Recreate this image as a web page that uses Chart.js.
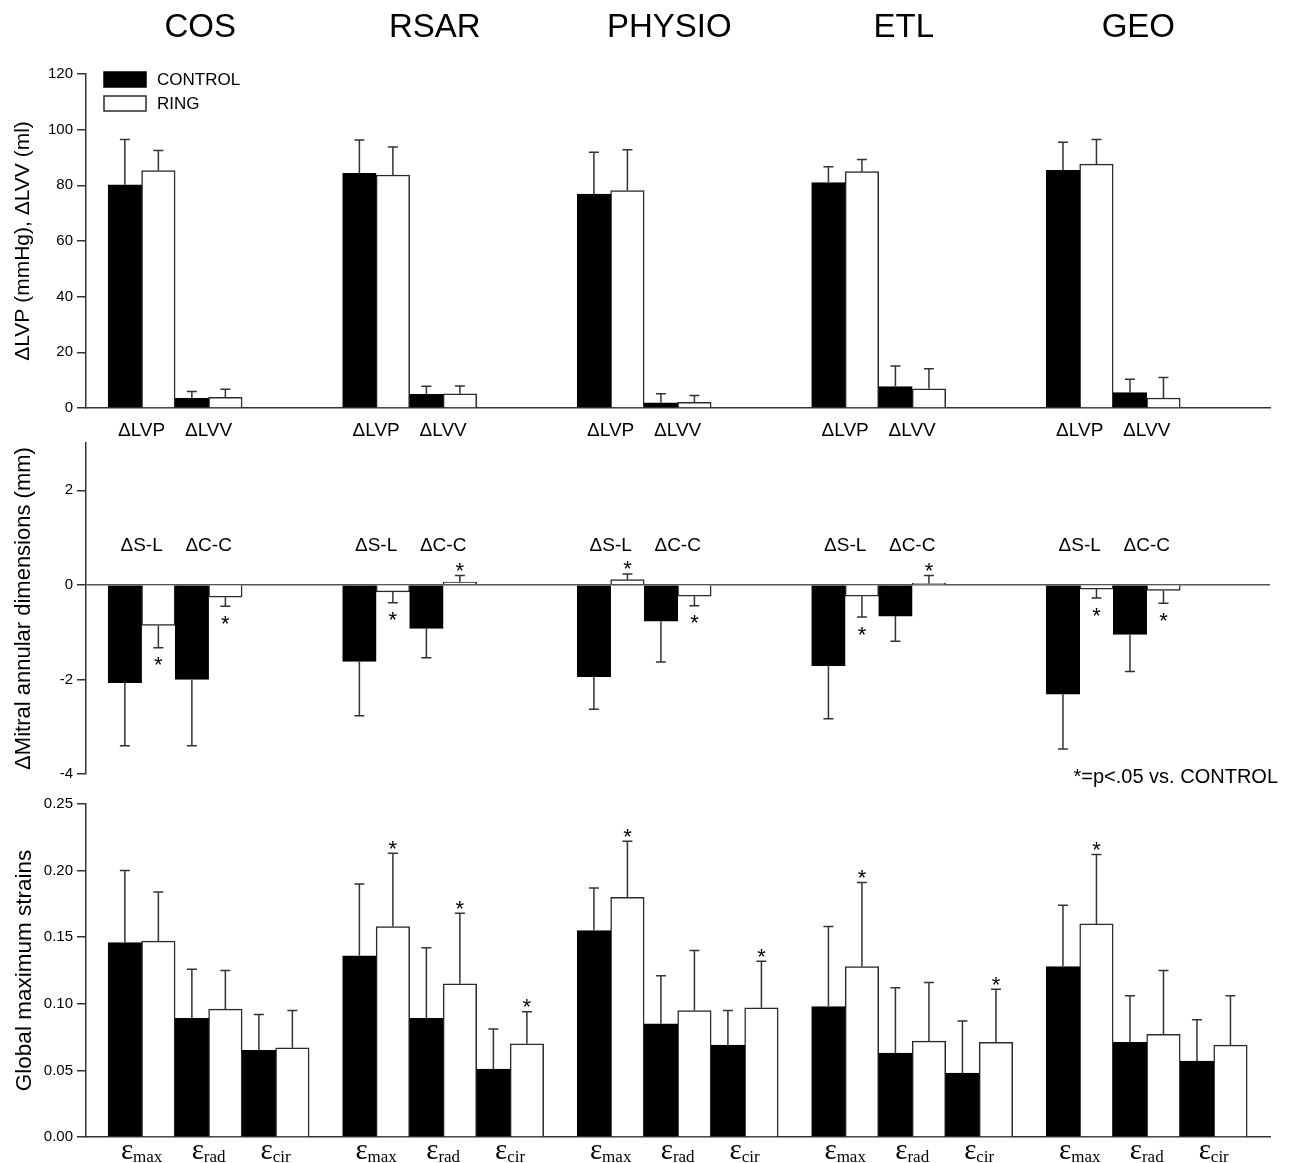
<!DOCTYPE html>
<html>
<head>
<meta charset="utf-8">
<script src="https://cdn.jsdelivr.net/npm/chart.js@4.4.1/dist/chart.umd.min.js"></script>
<style>
  body { margin: 0; background: #fff; }
  #wrap { position: relative; width: 1293px; height: 1163px; }
  .panel { position: absolute; left: 0; width: 1293px; }
</style>
</head>
<body>
<div id="wrap">
  <div class="panel" style="top:0;height:436px"><canvas id="pressureChart"></canvas></div>
  <div class="panel" style="top:430px;height:360px"><canvas id="annulusChart"></canvas></div>
  <div class="panel" style="top:790px;height:373px"><canvas id="strainChart"></canvas></div>
</div>
<script>
// groups (subplots) along the x axis
const groups = ['COS', 'RSAR', 'PHYSIO', 'ETL', 'GEO'];

// top panel: ΔLVP (mmHg) and ΔLVV (ml), mean and SD
const lvpControl   = [80.2, 84.3, 76.9, 81.0, 85.4];
const lvpControlSD = [16.3, 12.0, 15.0, 5.7, 10.1];
const lvpRing      = [85.3, 83.7, 78.1, 84.9, 87.6];
const lvpRingSD    = [7.2, 10.1, 14.7, 4.4, 8.9];
const lvvControl   = [3.5, 4.9, 1.9, 7.7, 5.5];
const lvvControlSD = [2.4, 2.9, 3.2, 7.4, 4.8];
const lvvRing      = [3.8, 5.1, 2.0, 6.9, 3.6];
const lvvRingSD    = [2.9, 2.8, 2.5, 7.2, 7.4];

// middle panel: change of mitral annular dimensions (mm)
const slControl   = [-2.07, -1.62, -1.94, -1.71, -2.31];
const slControlSD = [1.33, 1.15, 0.69, 1.12, 1.16];
const slRing      = [-0.86, -0.15, 0.11, -0.24, -0.09];
const slRingSD    = [0.47, 0.23, 0.12, 0.44, 0.19];
const slRingSig   = [true, true, true, true, true];
const ccControl   = [-2.00, -0.92, -0.77, -0.66, -1.05];
const ccControlSD = [1.40, 0.62, 0.86, 0.53, 0.78];
const ccRing      = [-0.26, 0.06, -0.24, 0.03, -0.12];
const ccRingSD    = [0.19, 0.14, 0.20, 0.17, 0.27];
const ccRingSig   = [true, true, true, true, true];

// bottom panel: global maximum strains
const maxControl   = [0.146, 0.136, 0.155, 0.098, 0.128];
const maxControlSD = [0.054, 0.054, 0.032, 0.060, 0.046];
const maxRing      = [0.147, 0.158, 0.180, 0.128, 0.160];
const maxRingSD    = [0.037, 0.055, 0.042, 0.063, 0.052];
const maxRingSig   = [false, true, true, true, true];
const radControl   = [0.089, 0.089, 0.085, 0.063, 0.071];
const radControlSD = [0.037, 0.053, 0.036, 0.049, 0.035];
const radRing      = [0.096, 0.115, 0.095, 0.072, 0.077];
const radRingSD    = [0.029, 0.053, 0.045, 0.044, 0.048];
const radRingSig   = [false, true, false, false, false];
const cirControl   = [0.065, 0.051, 0.069, 0.048, 0.057];
const cirControlSD = [0.027, 0.030, 0.026, 0.039, 0.031];
const cirRing      = [0.067, 0.070, 0.097, 0.071, 0.069];
const cirRingSD    = [0.028, 0.024, 0.035, 0.040, 0.037];
const cirRingSig   = [false, true, true, true, false];

// y tick labels
const pressureTicks = [0, 20, 40, 60, 80, 100, 120];
const annulusTicks = [-4, -2, 0, 2];
const strainTicks = [0, 0.05, 0.10, 0.15, 0.20, 0.25];

const FONT = "'Liberation Sans', Arial, sans-serif";
const SERIF = "'Liberation Serif', 'Times New Roman', serif";
const GROUP_SLOTS = 7; // bar widths per group incl. gap
const AXIS = '#333';

Chart.defaults.font.family = FONT;
Chart.defaults.color = '#000';
Chart.defaults.animation = false;

const hemoMeasures = [
  { text: 'ΔLVP', control: lvpControl, controlSD: lvpControlSD, ring: lvpRing, ringSD: lvpRingSD },
  { text: 'ΔLVV', control: lvvControl, controlSD: lvvControlSD, ring: lvvRing, ringSD: lvvRingSD }
];
const annulusMeasures = [
  { text: 'ΔS-L', control: slControl, controlSD: slControlSD, ring: slRing, ringSD: slRingSD, sig: slRingSig },
  { text: 'ΔC-C', control: ccControl, controlSD: ccControlSD, ring: ccRing, ringSD: ccRingSD, sig: ccRingSig }
];
const strainMeasures = [
  { text: 'ε', sub: 'max', control: maxControl, controlSD: maxControlSD, ring: maxRing, ringSD: maxRingSD, sig: maxRingSig },
  { text: 'ε', sub: 'rad', control: radControl, controlSD: radControlSD, ring: radRing, ringSD: radRingSD, sig: radRingSig },
  { text: 'ε', sub: 'cir', control: cirControl, controlSD: cirControlSD, ring: cirRing, ringSD: cirRingSD, sig: cirRingSig }
];

function buildDatasets(measures) {
  const ctl = { label: 'CONTROL', data: [], err: [], sig: [], backgroundColor: '#000', borderColor: '#000' };
  const rng = { label: 'RING', data: [], err: [], sig: [], backgroundColor: '#fff', borderColor: '#2a2a2a' };
  groups.forEach((g, gi) => {
    measures.forEach((m, mi) => {
      const slot = gi * GROUP_SLOTS + mi * 2;
      ctl.data.push({ x: slot + 0.5, y: m.control[gi] });
      ctl.err.push(m.controlSD[gi]);
      ctl.sig.push(false);
      rng.data.push({ x: slot + 1.5, y: m.ring[gi] });
      rng.err.push(m.ringSD[gi]);
      rng.sig.push(m.sig ? m.sig[gi] : false);
    });
  });
  return [ctl, rng].map(d => Object.assign(d, {
    borderWidth: 1.5, grouped: false, categoryPercentage: 1, barPercentage: 1
  }));
}

function measureItems(measures) {
  const items = [];
  groups.forEach((g, gi) => {
    measures.forEach((m, mi) => {
      items.push({ value: gi * GROUP_SLOTS + mi * 2 + 1, text: m.text, sub: m.sub });
    });
  });
  return items;
}

// error bars (one sided, away from zero) and significance stars
const errorBars = {
  id: 'errorBars',
  afterDatasetsDraw(chart) {
    const ctx = chart.ctx;
    const y = chart.scales.y;
    ctx.save();
    chart.data.datasets.forEach((ds, i) => {
      const meta = chart.getDatasetMeta(i);
      meta.data.forEach((bar, k) => {
        const v = ds.data[k].y;
        const down = v < 0;
        const end = y.getPixelForValue(down ? v - ds.err[k] : v + ds.err[k]);
        ctx.strokeStyle = AXIS;
        ctx.lineWidth = 1.5;
        ctx.beginPath();
        ctx.moveTo(bar.x, bar.y);
        ctx.lineTo(bar.x, end);
        ctx.moveTo(bar.x - 5, end);
        ctx.lineTo(bar.x + 5, end);
        ctx.stroke();
        if (ds.sig[k]) {
          ctx.fillStyle = '#000';
          ctx.font = '22px ' + FONT;
          ctx.textAlign = 'center';
          ctx.textBaseline = 'alphabetic';
          const c = down ? end + 12 : end - 10;
          ctx.fillText('*', bar.x, c + 12.5);
        }
      });
    });
    ctx.restore();
  }
};

// legend boxes inside the top panel
const boxLegend = {
  id: 'boxLegend',
  afterDraw(chart) {
    const ctx = chart.ctx;
    const a = chart.chartArea;
    ctx.save();
    chart.data.datasets.forEach((ds, i) => {
      const x = a.left + 18, y = a.top - 2 + i * 24;
      ctx.fillStyle = ds.backgroundColor;
      ctx.fillRect(x, y, 42, 15);
      ctx.strokeStyle = ds.borderColor;
      ctx.lineWidth = 1.5;
      ctx.strokeRect(x, y, 42, 15);
      ctx.fillStyle = '#000';
      ctx.font = '17px ' + FONT;
      ctx.textAlign = 'left';
      ctx.textBaseline = 'middle';
      ctx.fillText(ds.label, x + 53, y + 8);
    });
    ctx.restore();
  }
};

// group titles above the top panel
const groupTitles = {
  id: 'groupTitles',
  afterDraw(chart) {
    const ctx = chart.ctx;
    const x = chart.scales.x;
    ctx.save();
    ctx.fillStyle = '#000';
    ctx.font = '33px ' + FONT;
    ctx.textAlign = 'center';
    ctx.textBaseline = 'alphabetic';
    groups.forEach((g, gi) => {
      ctx.fillText(g, x.getPixelForValue(gi * GROUP_SLOTS + 2.75), 37);
    });
    ctx.restore();
  }
};

// measure labels drawn by the x scale positions
const measureLabels = {
  id: 'measureLabels',
  afterDraw(chart, args, o) {
    if (!o.items) return;
    const ctx = chart.ctx;
    const x = chart.scales.x, y = chart.scales.y;
    const a = chart.chartArea;
    const base = o.yValue !== undefined ? y.getPixelForValue(o.yValue) : a.bottom + o.below;
    ctx.save();
    ctx.fillStyle = '#000';
    ctx.textBaseline = 'alphabetic';
    o.items.forEach(it => {
      const cx = x.getPixelForValue(it.value);
      if (it.sub) {
        ctx.font = o.mainFont;
        const w1 = ctx.measureText(it.text).width;
        ctx.font = o.subFont;
        const w2 = ctx.measureText(it.sub).width;
        const left = cx - (w1 + w2) / 2;
        ctx.textAlign = 'left';
        ctx.font = o.mainFont;
        ctx.fillText(it.text, left, base);
        ctx.font = o.subFont;
        ctx.fillText(it.sub, left + w1, base + o.subDrop);
      } else {
        ctx.font = o.mainFont;
        ctx.textAlign = 'center';
        ctx.fillText(it.text, cx, base);
      }
    });
    if (o.note) {
      ctx.font = '20px ' + FONT;
      ctx.textAlign = 'right';
      ctx.fillText(o.note, a.right + 8, a.bottom + 9);
    }
    ctx.restore();
  }
};

function yScale(min, max, ticks, title, titleSize, fmt, zeroLine) {
  return {
    min: min,
    max: max,
    afterBuildTicks: s => { s.ticks = ticks.map(v => ({ value: v })); },
    afterFit: s => { s.width = 86; },
    ticks: {
      font: { size: 15 },
      color: '#000',
      padding: 4,
      callback: v => fmt ? fmt(v) : v
    },
    grid: {
      drawOnChartArea: !!zeroLine,
      color: c => (zeroLine && c.tick && c.tick.value === 0) ? '#555' : 'rgba(0,0,0,0)',
      lineWidth: 1.5,
      tickLength: 9,
      tickColor: AXIS
    },
    border: { display: true, color: AXIS, width: 1.5 },
    title: { display: true, text: title, font: { size: titleSize }, color: '#000', padding: { top: 11, bottom: 0 } }
  };
}

function xScale(measures, opts) {
  const items = measureItems(measures);
  return Object.assign({
    type: 'linear',
    offset: false,
    min: -0.66,
    max: groups.length * GROUP_SLOTS - 0.32,
    afterBuildTicks: s => { s.ticks = items.map(it => ({ value: it.value })); },
    grid: { display: false },
    border: { display: true, color: AXIS, width: 1.5 }
  }, opts);
}

// top panel
const hemoItems = measureItems(hemoMeasures);
new Chart(document.getElementById('pressureChart'), {
  type: 'bar',
  data: { datasets: buildDatasets(hemoMeasures) },
  plugins: [errorBars, boxLegend, groupTitles],
  options: {
    responsive: true,
    maintainAspectRatio: false,
    layout: { padding: { left: 0, right: 23, top: 74, bottom: 0 } },
    plugins: { legend: { display: false }, tooltip: { enabled: false } },
    scales: {
      x: xScale(hemoMeasures, {
        afterFit: s => { s.height = 28; },
        ticks: {
          autoSkip: false, maxRotation: 0, padding: 3,
          font: { size: 19 }, color: '#000',
          callback: (v, i) => hemoItems[i] ? hemoItems[i].text : ''
        }
      }),
      y: yScale(0, 120, pressureTicks, 'ΔLVP (mmHg), ΔLVV (ml)', 21)
    }
  }
});

// middle panel
new Chart(document.getElementById('annulusChart'), {
  type: 'bar',
  data: { datasets: buildDatasets(annulusMeasures) },
  plugins: [errorBars, measureLabels],
  options: {
    responsive: true,
    maintainAspectRatio: false,
    layout: { padding: { left: 0, right: 23, top: 5, bottom: 16 } },
    plugins: {
      legend: { display: false },
      tooltip: { enabled: false },
      measureLabels: {
        items: measureItems(annulusMeasures),
        yValue: 0.72,
        mainFont: '19px ' + FONT,
        note: '*=p<.05 vs. CONTROL'
      }
    },
    scales: {
      x: xScale(annulusMeasures, { display: false }),
      y: yScale(-4, 3, annulusTicks, 'ΔMitral annular dimensions (mm)', 22, null, true)
    }
  }
});

// bottom panel
new Chart(document.getElementById('strainChart'), {
  type: 'bar',
  data: { datasets: buildDatasets(strainMeasures) },
  plugins: [errorBars, measureLabels],
  options: {
    responsive: true,
    maintainAspectRatio: false,
    layout: { padding: { left: 0, right: 23, top: 14, bottom: 0 } },
    plugins: {
      legend: { display: false },
      tooltip: { enabled: false },
      measureLabels: {
        items: measureItems(strainMeasures),
        below: 22,
        subDrop: 3,
        mainFont: '29px ' + SERIF,
        subFont: '17px ' + SERIF
      }
    },
    scales: {
      x: xScale(strainMeasures, {
        afterFit: s => { s.height = 26; },
        ticks: { display: false }
      }),
      y: yScale(0, 0.25, strainTicks, 'Global maximum strains', 22.5, v => v.toFixed(2))
    }
  }
});
</script>
</body>
</html>
